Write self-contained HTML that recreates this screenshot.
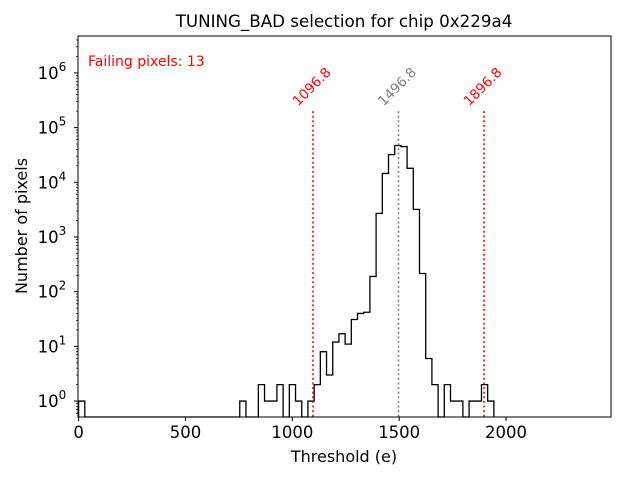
<!DOCTYPE html>
<html><head><meta charset="utf-8"><style>body{margin:0;background:#fff}svg{display:block;font-family:"DejaVu Sans","Liberation Sans",sans-serif}</style></head>
<body>
<svg id="chart" width="640" height="480" viewBox="0 0 640 480" xmlns="http://www.w3.org/2000/svg">
<rect width="640" height="480" fill="#fff"/>
<text x="344" y="27" font-size="16.7" text-anchor="middle">TUNING_BAD selection for chip 0x229a4</text>
<text x="344" y="462" font-size="16" text-anchor="middle">Threshold (e)</text>
<text transform="translate(27,226) rotate(-90)" font-size="16" text-anchor="middle">Number of pixels</text>
<text x="88" y="66" font-size="14" fill="red">Failing pixels: 13</text>
<g id="plot"></g>
<rect x="78" y="36" width="533" height="381" fill="none" stroke="#000" stroke-width="1"/>
</svg>
<script>
const binStart = 0;
const binWidth = 29.0;
const counts = [1,0,0,0,0,0,0,0,0,0,0,0,0,0,0,0,0,0,0,0,0,0,0,0,0,0,1,0,0,2,1,1,2,0,2,1,0,1,2,8,3,12,17,11,31,40,42,190,2700,14500,32000,47000,45000,18000,3200,215,6,2,0,2,1,1,0,1,1,2,1];
const xTicks = [0,500,1000,1500,2000];
const yTicks = [0,1,2,3,4,5,6];
const vlineValues = [1096.8,1496.8,1896.8];
const vlineLabels = ["1096.8","1496.8","1896.8"];
const vlineColors = ["red","gray","red"];
const vlineTop = 2e5;

const X0=78, X1=611, Y0=36, Y1=417;
const xMin=-2.8, xMax=2491;
const yLogMin=-0.291, yLogMax=6.674;
function sx(v){return X0+(v-xMin)/(xMax-xMin)*(X1-X0);}
function sy(v){const l=Math.log10(Math.max(v,1e-9));return Y1-(l-yLogMin)/(yLogMax-yLogMin)*(Y1-Y0);}
const NS="http://www.w3.org/2000/svg";
const g=document.getElementById('plot');
function mk(t,a,p){const e=document.createElementNS(NS,t);for(const k in a)e.setAttribute(k,a[k]);(p||g).appendChild(e);return e;}

let d="";
for(let i=0;i<counts.length;i++){
  const xl=Math.max(sx(binStart+i*binWidth),X0), xr=sx(binStart+(i+1)*binWidth);
  const y=counts[i]>0?sy(counts[i]):Y1;
  if(i===0) d+="M"+xl+","+Y1;
  d+=" L"+xl+","+y+" L"+xr+","+y;
}
d+=" L"+sx(binStart+counts.length*binWidth)+","+Y1;
const hist=mk('path',{d:d,fill:'none',stroke:'#000','stroke-width':1.3});



vlineValues.forEach((v,i)=>{
  const x=sx(v);
  const ln=mk('line',{x1:x,x2:x,y1:sy(vlineTop),y2:Y1,stroke:vlineColors[i],'stroke-width':1.6,'stroke-dasharray':'2,2.6'});
  
  
  const t=mk('text',{x:x-1,y:87,'font-size':13.5,fill:vlineColors[i],'text-anchor':'middle','dominant-baseline':'central',transform:'rotate(-45 '+(x-1)+' 87)'});
  t.textContent=vlineLabels[i];
  
  
});

xTicks.forEach(v=>{
  const x=sx(v);
  mk('line',{x1:x,x2:x,y1:Y1,y2:Y1+4,stroke:'#000'});
  const t=mk('text',{x:x,y:Y1+21,'font-size':16.5,'text-anchor':'middle'});
  t.textContent=String(v);
  
  
});
yTicks.forEach(p=>{
  const y=sy(Math.pow(10,p));
  mk('line',{x1:X0-4,x2:X0,y1:y,y2:y,stroke:'#000'});
  const t=mk('text',{x:X0-26,y:y+6,'font-size':16.5,'text-anchor':'middle'});
  t.innerHTML='10<tspan dy="-8" font-size="12">'+p+'</tspan>';
  
  
});
for(let p=-1;p<=6;p++){for(let m=2;m<=9;m++){
  const v=m*Math.pow(10,p);const y=sy(v);
  if(y>=Y0&&y<=Y1) mk('line',{x1:X0-2,x2:X0,y1:y,y2:y,stroke:'#000','stroke-width':0.7});
}}
</script>
</body></html>
